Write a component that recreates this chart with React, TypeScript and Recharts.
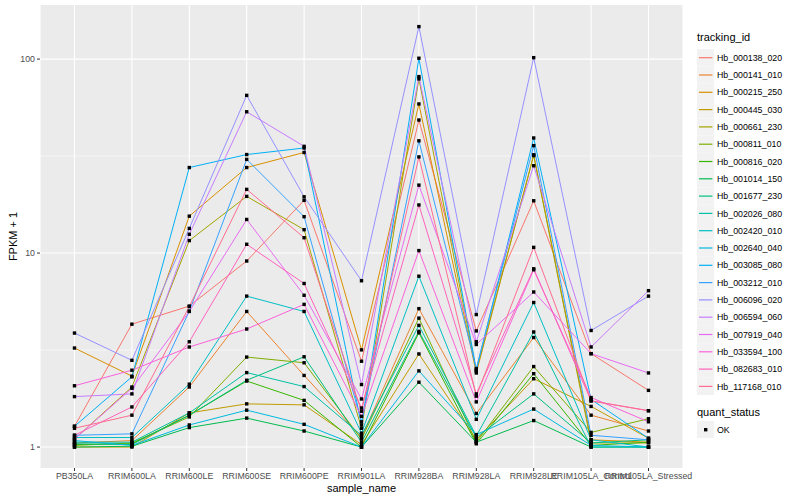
import React from "react";
import { CartesianGrid, Line, LineChart, XAxis, YAxis } from "recharts";

const samples = [
  "PB350LA",
  "RRIM600LA",
  "RRIM600LE",
  "RRIM600SE",
  "RRIM600PE",
  "RRIM901LA",
  "RRIM928BA",
  "RRIM928LA",
  "RRIM928LE",
  "RRIM105LA_Control",
  "RRIM105LA_Stressed",
];

const trackingIds = [
  "Hb_000138_020",
  "Hb_000141_010",
  "Hb_000215_250",
  "Hb_000445_030",
  "Hb_000661_230",
  "Hb_000811_010",
  "Hb_000816_020",
  "Hb_001014_150",
  "Hb_001677_230",
  "Hb_002026_080",
  "Hb_002420_010",
  "Hb_002640_040",
  "Hb_003085_080",
  "Hb_003212_010",
  "Hb_006096_020",
  "Hb_006594_060",
  "Hb_007919_040",
  "Hb_033594_100",
  "Hb_082683_010",
  "Hb_117168_010",
];

// ggplot hue palette, 20 levels
const colors = [
  "#F8766D", "#EA8331", "#D89000", "#C09B00", "#A3A500",
  "#7CAE00", "#39B600", "#00BB4E", "#00BF7D", "#00C1A3",
  "#00BFC4", "#00BAE0", "#00B0F6", "#35A2FF", "#9590FF",
  "#C77CFF", "#E76BF3", "#FA62DB", "#FF62BC", "#FF6C91",
];

// FPKM + 1 per sample, in the order of `samples`
const hb000138_020 = [1.28, 4.3, 5.33, 9.1, 18.7, 2.77, 48.5, 3.97, 18.6, 3.03, 1.96];
const hb000141_010 = [1.05, 1.08, 2.04, 5.0, 2.34, 1.12, 5.17, 1.49, 3.67, 1.46, 1.21];
const hb000215_250 = [3.24, 2.32, 15.5, 27.6, 33.0, 3.17, 58.7, 2.41, 32.1, 1.09, 1.06];
const hb000445_030 = [1.0, 1.0, 1.5, 1.67, 1.65, 1.03, 3.02, 1.09, 2.25, 1.62, 1.11];
const hb000661_230 = [1.1, 2.04, 11.6, 19.6, 13.2, 1.25, 79.0, 2.47, 31.8, 1.05, 1.05];
const hb000811_010 = [1.02, 1.05, 1.43, 2.91, 2.72, 1.1, 4.62, 1.06, 2.6, 1.19, 1.4];
const hb000816_020 = [1.03, 1.04, 1.46, 2.19, 1.74, 1.0, 3.88, 1.04, 2.39, 1.02, 1.06];
const hb001014_150 = [1.0, 1.01, 1.26, 1.41, 1.21, 1.0, 2.16, 1.06, 1.37, 1.0, 1.0];
const hb001677_230 = [1.04, 1.03, 1.46, 2.21, 2.92, 1.06, 3.95, 1.12, 1.88, 1.05, 1.09];
const hb002026_080 = [1.06, 1.06, 1.5, 2.42, 2.05, 1.15, 4.24, 1.14, 3.92, 1.0, 1.0];
const hb002420_010 = [1.12, 1.12, 2.11, 6.0, 5.0, 1.18, 7.6, 1.39, 5.56, 1.09, 1.0];
const hb002640_040 = [1.08, 1.02, 1.3, 1.55, 1.31, 1.0, 2.47, 1.16, 1.57, 1.02, 1.0];
const hb003085_080 = [1.28, 2.3, 27.6, 32.2, 34.8, 1.3, 101.0, 2.5, 39.2, 1.76, 1.11];
const hb003212_010 = [1.15, 1.17, 5.02, 30.4, 15.4, 1.35, 37.9, 2.54, 35.8, 1.15, 1.09];
const hb006096_020 = [3.87, 2.8, 13.4, 65.0, 19.5, 7.2, 147.0, 4.82, 101.7, 3.99, 6.0];
const hb006594_060 = [1.82, 1.88, 12.5, 53.5, 35.5, 2.1, 81.2, 3.49, 28.2, 3.28, 6.4];
const hb007919_040 = [1.1, 2.01, 5.0, 14.9, 6.06, 1.77, 22.4, 3.38, 6.3, 3.03, 2.41];
const hb033594_100 = [2.07, 2.49, 3.28, 4.06, 5.44, 1.44, 10.3, 1.71, 8.2, 1.8, 1.35];
const hb082683_010 = [1.15, 1.61, 3.49, 11.1, 6.97, 1.59, 17.7, 1.88, 8.3, 1.73, 1.54];
const hb117168_010 = [1.25, 1.46, 5.3, 21.3, 12.0, 1.53, 31.3, 1.83, 10.7, 1.73, 1.54];

const seriesValues = [
  hb000138_020, hb000141_010, hb000215_250, hb000445_030, hb000661_230,
  hb000811_010, hb000816_020, hb001014_150, hb001677_230, hb002026_080,
  hb002420_010, hb002640_040, hb003085_080, hb003212_010, hb006096_020,
  hb006594_060, hb007919_040, hb033594_100, hb082683_010, hb117168_010,
];

const majorBreaks = [1, 10, 100];
const minorBreaks = [Math.sqrt(10), Math.sqrt(1000)];

const data = samples.map((sample, i) => {
  const row: Record<string, string | number> = { sample };
  trackingIds.forEach((id, s) => {
    row[id] = seriesValues[s][i];
  });
  return row;
});

const FONT = '"Liberation Sans", Arial, Helvetica, sans-serif';

function SquareDot(props: any) {
  const { cx, cy, index, dataKey } = props;
  if (cx == null || cy == null) return null;
  return (
    <rect key={`${dataKey}-${index}`} x={cx - 1.7} y={cy - 1.7} width={3.4} height={3.4} fill="#000" />
  );
}

function LegendPanel() {
  const firstY = 57.7;
  const step = 17.3;
  return (
    <svg
      width={110}
      height={500}
      style={{ position: "absolute", left: 690, top: 0, fontFamily: FONT }}
    >
      <text x={7} y={41} fontSize={11} fill="#000">
        tracking_id
      </text>
      {trackingIds.map((id, i) => {
        const cy = firstY + i * step;
        return (
          <g key={id}>
            <rect x={7} y={cy - 8.6} width={17.2} height={17.2} fill="#F2F2F2" />
            <line x1={9} x2={22.4} y1={cy} y2={cy} stroke={colors[i]} strokeWidth={1.2} />
            <text x={27} y={cy + 3.1} fontSize={8.8} fill="#000">
              {id}
            </text>
          </g>
        );
      })}
      <text x={7} y={416} fontSize={11} fill="#000">
        quant_status
      </text>
      <rect x={7} y={421} width={17.2} height={17.2} fill="#F2F2F2" />
      <rect x={14} y={428} width={3.4} height={3.4} fill="#000" />
      <text x={27} y={432.7} fontSize={8.8} fill="#000">
        OK
      </text>
    </svg>
  );
}

export default function App() {
  return (
    <div
      style={{
        position: "absolute",
        left: 0,
        top: 0,
        width: 800,
        height: 500,
        background: "#fff",
        fontFamily: FONT,
      }}
    >
      <LineChart
        width={800}
        height={500}
        data={data}
        margin={{ top: 5, right: 117, bottom: 0, left: 0 }}
      >
        <CartesianGrid
          fill="#EBEBEB"
          stroke="#FFFFFF"
          strokeWidth={1.1}
          horizontalValues={majorBreaks}
        />
        <CartesianGrid
          stroke="#FFFFFF"
          strokeWidth={0.55}
          vertical={false}
          horizontalValues={minorBreaks}
        />
        <XAxis
          dataKey="sample"
          type="category"
          interval={0}
          padding={{ left: 34.5, right: 34.5 }}
          axisLine={false}
          tickLine={{ stroke: "#333333" }}
          tickSize={3}
          tickMargin={2}
          height={32}
          tick={{ fontSize: 8.8, fill: "#4D4D4D", fontFamily: FONT }}
          label={{
            value: "sample_name",
            position: "insideBottom",
            offset: 8,
            style: { fontSize: 11, fill: "#000", fontFamily: FONT },
          }}
        />
        <YAxis
          type="number"
          scale="log"
          domain={[0.78, 190]}
          allowDataOverflow
          ticks={majorBreaks}
          width={40}
          axisLine={false}
          tickLine={{ stroke: "#333333" }}
          tickSize={3}
          tickMargin={2}
          tick={{ fontSize: 8.8, fill: "#4D4D4D", fontFamily: FONT }}
          label={{
            value: "FPKM + 1",
            angle: -90,
            position: "insideLeft",
            offset: 13,
            style: { fontSize: 11, fill: "#000", fontFamily: FONT, textAnchor: "middle" },
          }}
        />
        {trackingIds.map((id, i) => (
          <Line
            key={id}
            dataKey={id}
            type="linear"
            stroke={colors[i]}
            strokeWidth={1}
            dot={false}
            activeDot={false}
            isAnimationActive={false}
          />
        ))}
        {trackingIds.map((id) => (
          <Line
            key={`${id}-pts`}
            dataKey={id}
            type="linear"
            stroke="none"
            dot={SquareDot}
            activeDot={false}
            legendType="none"
            isAnimationActive={false}
          />
        ))}
      </LineChart>
      <LegendPanel />
    </div>
  );
}
